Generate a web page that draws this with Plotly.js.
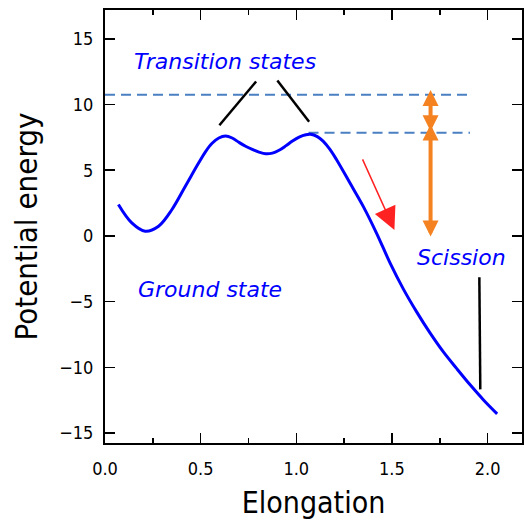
<!DOCTYPE html>
<html>
<head>
<meta charset="utf-8">
<script src="https://cdn.plot.ly/plotly-3.0.1.min.js"></script>
<style>html,body{margin:0;padding:0;background:#fff;}#chart{width:524px;height:523px;}</style>
</head>
<body>
<div id="chart"></div>
<script>
// Potential energy curve
const elongation = [0.07,0.14,0.21,0.28,0.35,0.42,0.49,0.525,0.56,0.595,0.63,0.665,0.70,0.735,0.77,0.805,0.84,0.875,0.91,0.945,0.98,1.015,1.05,1.075,1.11,1.14,1.175,1.21,1.28,1.35,1.42,1.49,1.56,1.63,1.70,1.77,1.84,1.91,1.98,2.05];
const energy     = [2.39,0.99,0.36,0.74,2.01,3.78,5.56,6.40,7.05,7.45,7.60,7.45,7.12,6.82,6.58,6.38,6.25,6.30,6.52,6.85,7.22,7.52,7.70,7.73,7.55,7.21,6.60,5.81,4.04,2.25,0.20,-2.05,-4.05,-5.80,-7.40,-8.85,-10.12,-11.35,-12.50,-13.54];

// Dashed reference levels
const level1X = [0.0, 1.908];
const level1Y = [10.74, 10.74];
const level2X = [1.064, 1.908];
const level2Y = [7.85, 7.85];

// Black pointer lines
const ptr1X = [0.598, 0.790]; const ptr1Y = [8.42, 11.75];
const ptr2X = [0.901, 1.067]; const ptr2Y = [11.83, 8.68];
const ptr3X = [1.957, 1.962]; const ptr3Y = [-3.15, -11.68];

// Arrows: [tailX, tailY, headX, headY]
const redArrow = [1.343, 5.94, 1.513, 0.45];
const orangeUp = [1.702, 7.85, 1.702, 11.1];
const orangeDown = [1.702, 8.6, 1.702, -0.05];

// Labels
const labelText = ["Transition states", "Ground state", "Scission"];
const labelX = [0.628, 0.549, 1.862];
const labelY = [13.27, -4.08, -1.64];

const xTickVals = [0, 0.5, 1.0, 1.5, 2.0];
const xTickText = ["0.0", "0.5", "1.0", "1.5", "2.0"];
const yTickVals = [-15, -10, -5, 0, 5, 10, 15];

const tickFont = {family: "DejaVu Sans Condensed, DejaVu Sans, sans-serif", size: 18, color: "#000"};
const labelFont = {family: "DejaVu Sans, sans-serif", size: 22, color: "#0000ff", style: "italic"};

const lineTrace = (x, y, color, width, dash) => ({
  x: x, y: y, type: "scatter", mode: "lines", hoverinfo: "skip",
  line: {color: color, width: width, dash: dash || "solid"}, showlegend: false
});

const traces = [
  lineTrace(level1X, level1Y, "#4a7fc1", 2, "10px,6px"),
  lineTrace(level2X, level2Y, "#4a7fc1", 2, "10px,6px"),
  lineTrace(ptr1X, ptr1Y, "#000", 2.5),
  lineTrace(ptr2X, ptr2Y, "#000", 2.5),
  lineTrace(ptr3X, ptr3Y, "#000", 2.5),
  Object.assign(lineTrace(elongation, energy, "#0000ff", 3), {line: {color: "#0000ff", width: 3, shape: "spline", smoothing: 1.0}})
];

const annotations = [];
labelText.forEach((t, i) => annotations.push({
  x: labelX[i], y: labelY[i], xref: "x", yref: "y", text: t, showarrow: false,
  font: labelFont, xanchor: "center", yanchor: "middle"
}));
annotations.push({
  x: redArrow[2], y: redArrow[3], ax: redArrow[0], ay: redArrow[1],
  xref: "x", yref: "y", axref: "x", ayref: "y", text: "", showarrow: true,
  arrowhead: 2, arrowwidth: 1.5, arrowsize: 3.0, arrowcolor: "#ff2222"
});
[orangeUp, orangeDown].forEach(a => annotations.push({
  x: a[2], y: a[3], ax: a[0], ay: a[1],
  xref: "x", yref: "y", axref: "x", ayref: "y", text: "", showarrow: true,
  arrowhead: 2, startarrowhead: 2, arrowside: "end+start",
  arrowwidth: 4, arrowsize: 0.8, startarrowsize: 0.8, arrowcolor: "#f58220"
}));

const layout = {
  width: 524, height: 523,
  margin: {l: 105, r: 2, t: 10, b: 80},
  paper_bgcolor: "#fff", plot_bgcolor: "#fff",
  showlegend: false,
  xaxis: {
    range: [0, 2.18], showgrid: false, zeroline: false,
    showline: true, linecolor: "#000", linewidth: 2, mirror: "ticks",
    ticks: "inside", ticklen: 10, tickwidth: 1.5, tickcolor: "#000",
    tickvals: xTickVals, ticktext: xTickText, tickfont: tickFont, ticklabelstandoff: 8,
    minor: {dtick: 0.25, tick0: 0, ticks: "inside", ticklen: 5, tickwidth: 1.5, tickcolor: "#000", showgrid: false},
    title: {text: "Elongation", font: {family: "DejaVu Sans Condensed, DejaVu Sans, sans-serif", size: 30, color: "#000"}, standoff: 14}
  },
  yaxis: {
    range: [-15.76, 17.19], showgrid: false, zeroline: false,
    showline: true, linecolor: "#000", linewidth: 2, mirror: "ticks",
    ticks: "inside", ticklen: 10, tickwidth: 1.5, tickcolor: "#000",
    tickvals: yTickVals, tickfont: tickFont, ticklabelstandoff: 6,
    title: {text: "Potential energy", font: {family: "DejaVu Sans Condensed, DejaVu Sans, sans-serif", size: 31, color: "#000"}, standoff: 12}
  },
  annotations: annotations
};

Plotly.newPlot("chart", traces, layout, {staticPlot: true, displayModeBar: false});
</script>
</body>
</html>
